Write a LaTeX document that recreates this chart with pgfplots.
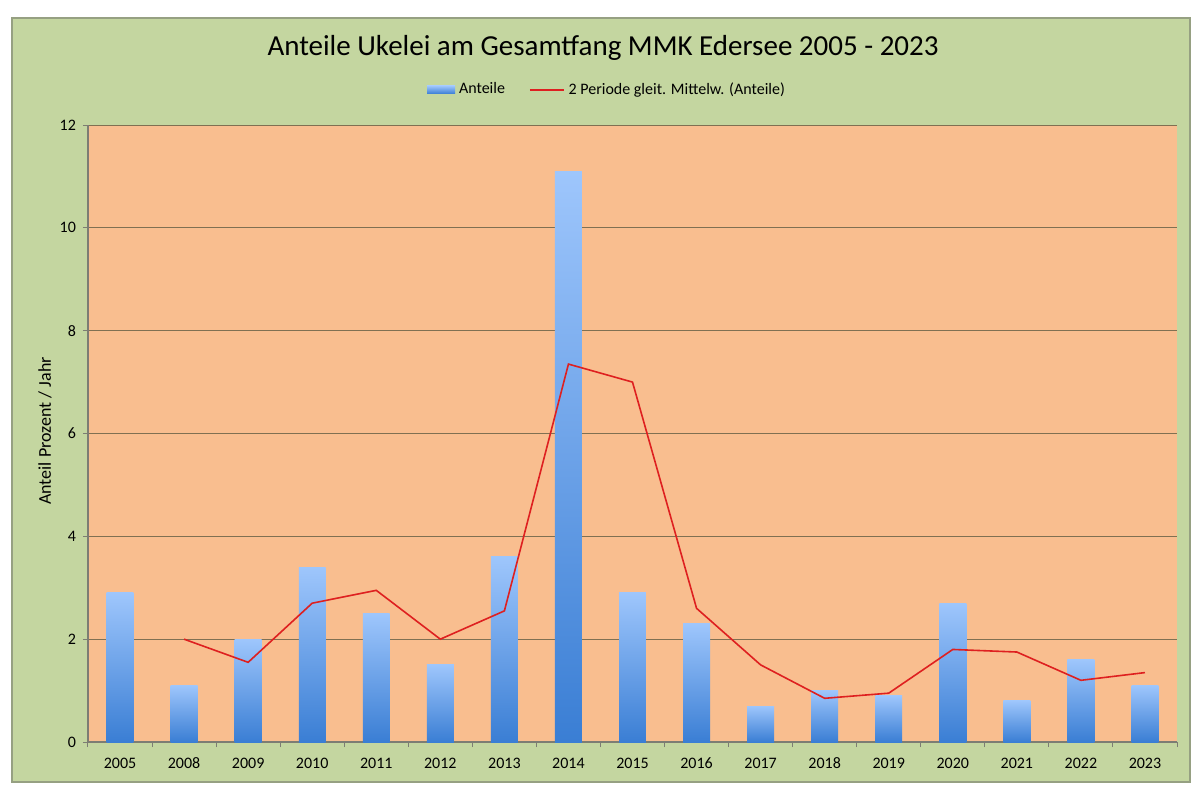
\documentclass[border=0pt]{standalone}
\usepackage{fontspec}
\setmainfont{Carlito}
\usepackage{pgfplots}
\pgfplotsset{compat=1.18}
\definecolor{bggreen}{RGB}{196,214,160}
\definecolor{plotorange}{RGB}{249,190,143}
\definecolor{gridc}{RGB}{128,112,82}
\definecolor{axisgray}{RGB}{125,125,115}
\definecolor{bartop}{RGB}{158,198,252}
\definecolor{barmid}{RGB}{122,170,238}
\definecolor{barbot}{RGB}{58,126,212}
\definecolor{linered}{RGB}{222,32,32}
\pgfplotsset{
  ubar/.style={ybar, bar width=0.42, draw=none, top color=bartop, middle color=barmid, bottom color=barbot},
}
\begin{document}
\begin{tikzpicture}
\useasboundingbox (0,0) rectangle (596.5pt,392pt);
\fill[white] (0,0) rectangle (596.5pt,392pt);
\fill[bggreen, draw={rgb,255:red,150;green,160;blue,130}, line width=0.6pt] (6pt,1pt) rectangle (595pt,383pt);
\begin{axis}[
  at={(44pt,21pt)}, anchor=south west,
  width=544.5pt, height=308.5pt, scale only axis,
  xmin=-0.5, xmax=16.5, ymin=0, ymax=12,
  axis lines*=left,
  axis line style={axisgray, line width=0.6pt},
  axis background/.style={fill=plotorange},
  xtick={-0.5,0.5,...,16.5},
  xticklabels={2005,2008,2009,2010,2011,2012,2013,2014,2015,2016,2017,2018,2019,2020,2021,2022,2023},
  x tick label as interval,
  ytick={0,2,...,12},
  ymajorgrids, grid style={gridc, line width=0.5pt},
  tick align=outside,
  major tick length=2.5pt,
  tick style={axisgray, line width=0.5pt},
  ticklabel style={font=\fontsize{8}{9}\selectfont, text=black},
  xticklabel style={text height=6pt, text depth=0pt, yshift=-1pt},
  /pgf/number format/assume math mode=true,
  legend columns=2,
  legend style={at={(0.4775,1.0570)}, anchor=center, draw=none, fill=none,
    font=\fontsize{8}{9}\selectfont,
    /tikz/every even column/.append style={column sep=10pt}},
]
\addplot[ubar,
  legend image code/.code={\fill[top color=bartop, bottom color=barbot] (0pt,-2pt) rectangle (14pt,2pt);}]
  coordinates {(0,2.9)};
\addlegendentry{Anteile}
\addplot[ubar, forget plot] coordinates {(1,1.1)};
\addplot[ubar, forget plot] coordinates {(2,2.0)};
\addplot[ubar, forget plot] coordinates {(3,3.4)};
\addplot[ubar, forget plot] coordinates {(4,2.5)};
\addplot[ubar, forget plot] coordinates {(5,1.5)};
\addplot[ubar, forget plot] coordinates {(6,3.6)};
\addplot[ubar, forget plot] coordinates {(7,11.1)};
\addplot[ubar, forget plot] coordinates {(8,2.9)};
\addplot[ubar, forget plot] coordinates {(9,2.3)};
\addplot[ubar, forget plot] coordinates {(10,0.7)};
\addplot[ubar, forget plot] coordinates {(11,1.0)};
\addplot[ubar, forget plot] coordinates {(12,0.9)};
\addplot[ubar, forget plot] coordinates {(13,2.7)};
\addplot[ubar, forget plot] coordinates {(14,0.8)};
\addplot[ubar, forget plot] coordinates {(15,1.6)};
\addplot[ubar, forget plot] coordinates {(16,1.1)};
\addplot[linered, line width=0.8pt, sharp plot,
  legend image code/.code={\draw[draw=linered, line width=0.8pt] (0pt,0pt) -- (17pt,0pt);}]
  coordinates {(1,2.0) (2,1.55) (3,2.7) (4,2.95) (5,2.0) (6,2.55) (7,7.35) (8,7.0) (9,2.6) (10,1.5) (11,0.85) (12,0.95) (13,1.8) (14,1.75) (15,1.2) (16,1.35)};
\addlegendentry{2 Periode gleit. Mittelw. (Anteile)}
\end{axis}
\node[font=\fontsize{9}{10.5}\selectfont, rotate=90, text=black] at (22.5pt,176.5pt) {Anteil Prozent / Jahr};
\node[font=\fontsize{14.5}{16}\selectfont, text=black] at (301.5pt,368pt) {Anteile Ukelei am Gesamtfang MMK Edersee 2005 - 2023};
\end{tikzpicture}
\end{document}
